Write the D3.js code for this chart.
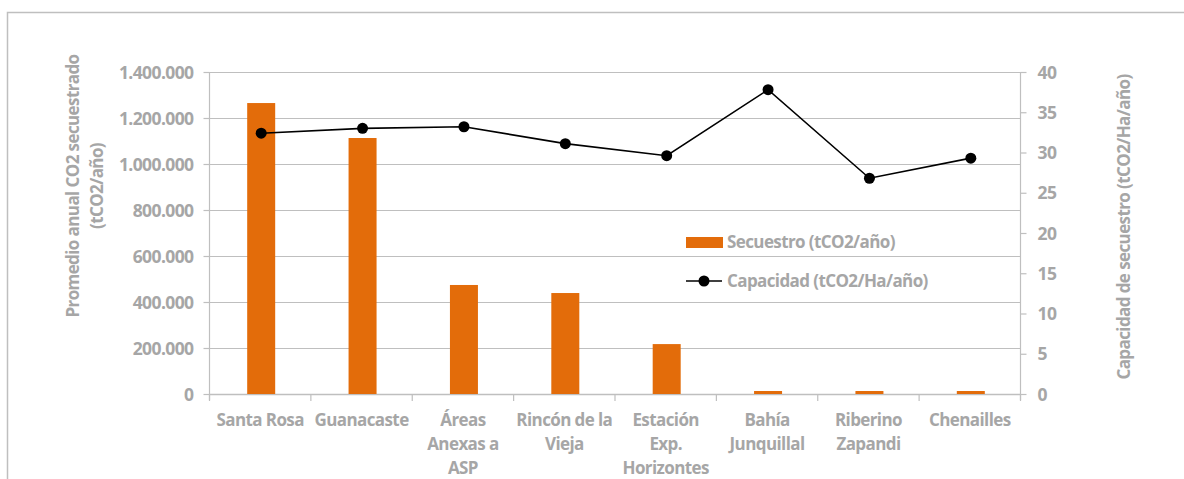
<!DOCTYPE html>
<html><head><meta charset="utf-8">
<script src="https://cdn.jsdelivr.net/npm/d3@7/dist/d3.min.js"></script>
<style>
body{margin:0;background:#fff;}
text{font-family:"Open Sans",Lato,sans-serif;font-weight:700;fill:#a6a6a6;}
</style></head><body>
<svg id="c" width="1184" height="479"></svg>
<script>
const categories = [["Santa Rosa"],["Guanacaste"],["Áreas","Anexas a","ASP"],["Rincón de la","Vieja"],["Estación","Exp.","Horizontes"],["Bahía","Junquillal"],["Riberino","Zapandi"],["Chenailles"]];
const secuestro = [1265000,1113000,474000,439000,217000,13000,13000,13000];
const capacidad = [32.4,33.0,33.2,31.1,29.6,37.8,26.8,29.3];
const leftTicks = [0,200000,400000,600000,800000,1000000,1200000,1400000];
const rightTicks = [0,5,10,15,20,25,30,35,40];
const seriesNames = ["Secuestro (tCO2/año)","Capacidad (tCO2/Ha/año)"];
const leftTitle = ["Promedio anual CO2 secuestrado","(tCO2/año)"];
const rightTitle = "Capacidad de secuestro (tCO2/Ha/año)";

const svg = d3.select("#c");
const L=209.5, R=1020.5, T=72, B=394;
const grid="#bfbfbf", orange="#e36c0a";
const fmt = v => v.toLocaleString("de-DE");
const fs = "17px", ls = "-0.6px";

// outer border
svg.append("path").attr("d","M7.5,479 V12.5 H1184").attr("fill","none").attr("stroke","#bfbfbf").attr("stroke-width",1.5);

const x = d3.scaleBand().domain(d3.range(categories.length)).range([L,R]).padding(0);
const yL = d3.scaleLinear().domain([0,1400000]).range([B,T]);
const yR = d3.scaleLinear().domain([0,40]).range([B,T]);

// gridlines
svg.append("g").selectAll("line").data(leftTicks.slice(1)).join("line")
  .attr("x1",L).attr("x2",R).attr("y1",d=>Math.round(yL(d))+0.5).attr("y2",d=>Math.round(yL(d))+0.5)
  .attr("stroke",grid).attr("stroke-width",1.2);

// left axis
const gl = svg.append("g").attr("transform",`translate(${L},0)`)
  .call(d3.axisLeft(yL).tickValues(leftTicks).tickFormat(fmt).tickSize(6).tickPadding(10));
gl.attr("font-family",null);
gl.select(".domain").attr("stroke",grid).attr("stroke-width",1.2).attr("d",`M0,${T}V${B+6}`);
gl.selectAll(".tick line").attr("stroke",grid).attr("stroke-width",1.2);
gl.selectAll(".tick text").style("font-size","17.5px").style("letter-spacing","-0.6px").style("fill","#a6a6a6").attr("dy","0.35em");

// right axis
const gr = svg.append("g").attr("transform",`translate(${R},0)`)
  .call(d3.axisRight(yR).tickValues(rightTicks).tickSize(6).tickPadding(11));
gr.attr("font-family",null);
gr.select(".domain").attr("stroke",grid).attr("stroke-width",1.2).attr("d",`M0,${T}V${B+6}`);
gr.selectAll(".tick line").attr("stroke",grid).attr("stroke-width",1.2);
gr.selectAll(".tick text").style("font-size","17.5px").style("letter-spacing","-0.6px").style("fill","#a6a6a6").attr("dy","0.35em");

// x axis
svg.append("line").attr("x1",L).attr("x2",R).attr("y1",B+0.5).attr("y2",B+0.5).attr("stroke",grid).attr("stroke-width",1.5);
svg.append("g").selectAll("line").data(d3.range(categories.length+1)).join("line")
  .attr("x1",i=>L+i*x.bandwidth()).attr("x2",i=>L+i*x.bandwidth()).attr("y1",B).attr("y2",B+7)
  .attr("stroke",grid).attr("stroke-width",1.2);
const xl = svg.append("g").selectAll("text").data(categories).join("text")
  .attr("x",(d,i)=>x(i)+x.bandwidth()/2).attr("y",426).attr("text-anchor","middle").style("font-size",fs).style("letter-spacing",ls);
xl.each(function(d){ d3.select(this).selectAll("tspan").data(d).join("tspan")
  .attr("x",d3.select(this).attr("x")).attr("dy",(t,j)=>j?24:0).text(t=>t); });

// bars
const bw=28;
svg.append("g").selectAll("rect").data(secuestro).join("rect")
  .attr("x",(d,i)=>x(i)+x.bandwidth()/2-bw/2+1).attr("width",bw)
  .attr("y",d=>yL(d)).attr("height",d=>B-yL(d)).attr("fill",orange);

// line
const line = d3.line().x((d,i)=>x(i)+x.bandwidth()/2+1).y(d=>yR(d));
svg.append("path").datum(capacidad).attr("d",line).attr("fill","none").attr("stroke","#000").attr("stroke-width",1.6);
svg.append("g").selectAll("circle").data(capacidad).join("circle")
  .attr("cx",(d,i)=>x(i)+x.bandwidth()/2+1).attr("cy",d=>yR(d)).attr("r",5.5).attr("fill","#000");

// legend
const lg = svg.append("g");
lg.append("rect").attr("x",686).attr("y",237).attr("width",37).attr("height",11).attr("fill",orange);
lg.append("text").attr("x",727).attr("y",248).style("font-size",fs).style("letter-spacing",ls).text(seriesNames[0]);
lg.append("line").attr("x1",686).attr("x2",722).attr("y1",281).attr("y2",281).attr("stroke","#000").attr("stroke-width",1.6);
lg.append("circle").attr("cx",704).attr("cy",281).attr("r",5.5).attr("fill","#000");
lg.append("text").attr("x",727).attr("y",287).style("font-size",fs).style("letter-spacing",ls).text(seriesNames[1]);

// axis titles
const lt = svg.append("text").attr("transform","translate(79,186) rotate(-90)").attr("text-anchor","middle").style("font-size",fs).style("letter-spacing",ls);
lt.selectAll("tspan").data(leftTitle).join("tspan").attr("x",0).attr("dy",(d,i)=>i?24:0).text(d=>d);
svg.append("text").attr("transform","translate(1130,227) rotate(-90)").attr("text-anchor","middle").style("font-size",fs).style("letter-spacing",ls).text(rightTitle);
</script></body></html>
